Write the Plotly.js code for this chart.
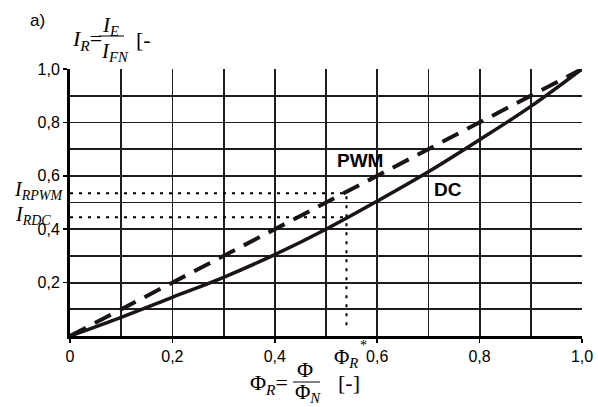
<!DOCTYPE html>
<html>
<head>
<meta charset="utf-8">
<script src="https://cdn.plot.ly/plotly-3.0.1.min.js"></script>
<style>html,body{margin:0;padding:0;background:#fff;}#chart{width:598px;height:407px;}</style>
</head>
<body>
<div id="chart"></div>
<script>
// ---- data ----
const phi = [0, 0.1, 0.2, 0.3, 0.4, 0.5, 0.6, 0.7, 0.8, 0.9, 1.0];
const dcValues = [0, 0.07, 0.145, 0.22, 0.305, 0.40, 0.505, 0.615, 0.735, 0.86, 1.0];
const pwmValues = [0, 0.1, 0.2, 0.3, 0.4, 0.5, 0.6, 0.7, 0.8, 0.9, 1.0];
const phiStar = 0.54;
const iRPWM = 0.535;
const iRDC = 0.445;
const xTickVals = [0, 0.2, 0.4, 0.6, 0.8, 1.0];
const xTickText = ["0", "0,2", "0,4", "0,6", "0,8", "1,0"];
const yTickVals = [0.2, 0.4, 0.6, 0.8, 1.0];
const yTickText = ["0,2", "0,4", "0,6", "0,8", "1,0"];
const seriesNames = ["DC", "PWM"];

// ---- layout helpers (pixel -> paper) ----
const L = 70, R = 16, T = 69, B = 71, W = 598, H = 407;
const PW = W - L - R, PH = H - T - B;
function px(x) { return (x - L) / PW; }
function py(y) { return (H - B - y) / PH; }

const serif = "Liberation Serif, Times New Roman, serif";
const sans = "Liberation Sans, Arial, sans-serif";

const traces = [
  { x: phi, y: dcValues, mode: "lines", name: seriesNames[0],
    line: { color: "#1a1414", width: 3.5, shape: "spline", smoothing: 1 }, cliponaxis: false },
  { x: phi, y: pwmValues, mode: "lines", name: seriesNames[1],
    line: { color: "#1a1414", width: 4, dash: "18px,10px" }, cliponaxis: false },
  { x: [0, phiStar], y: [iRPWM, iRPWM], mode: "lines",
    line: { color: "#000", width: 2, dash: "3px,6px" } },
  { x: [0, phiStar], y: [iRDC, iRDC], mode: "lines",
    line: { color: "#000", width: 2, dash: "3px,6px" } },
  { x: [phiStar, phiStar], y: [0.04, iRPWM + 0.01], mode: "lines",
    line: { color: "#000", width: 2, dash: "3px,6px" } }
];

function ann(text, x, y, opts) {
  return Object.assign({ text: text, xref: "paper", yref: "paper", x: px(x), y: py(y),
    showarrow: false, xanchor: "center", yanchor: "middle",
    font: { family: serif, size: 22, color: "#000" } }, opts || {});
}

const annotations = [
  ann("a)", 37, 20, { font: { family: sans, size: 17, color: "#000" } }),
  ann("<i>I</i><sub><i>R</i></sub>=", 70, 40, { xanchor: "left" }),
  ann("<i>I</i><sub><i>E</i></sub>", 100, 26, { xanchor: "left", font: { family: serif, size: 21, color: "#000" } }),
  ann("<i>I</i><sub><i>FN</i></sub>", 99, 52, { xanchor: "left", font: { family: serif, size: 21, color: "#000" } }),
  ann("[-", 134, 40, { xanchor: "left" }),
  ann("Φ<sub><i>R</i></sub>=", 248, 384, { xanchor: "left" }),
  ann("Φ", 305, 369),
  ann("Φ<sub><i>N</i></sub>", 308, 393, { font: { family: serif, size: 21, color: "#000" } }),
  ann("[-]", 336, 382, { xanchor: "left" }),
  ann("Φ<sub><i>R</i></sub>", 346, 358, { font: { family: serif, size: 21, color: "#000" } }),
  ann("*", 363, 345, { font: { family: serif, size: 14, color: "#000" } }),
  ann("<i>I</i><sub><i>RPWM</i></sub>", 65, 190, { xanchor: "right", font: { family: serif, size: 20, color: "#000" } }),
  ann("<i>I</i><sub><i>RDC</i></sub>", 53, 215, { xanchor: "right", font: { family: serif, size: 20, color: "#000" } }),
  ann("<b>PWM</b>", 360, 160, { font: { family: sans, size: 19, color: "#000" } }),
  ann("<b>DC</b>", 448, 189, { font: { family: sans, size: 19, color: "#000" } })
];

const shapes = [
  { type: "line", xref: "paper", yref: "paper", x0: px(99), x1: px(124), y0: py(36), y1: py(36),
    line: { color: "#000", width: 1 } },
  { type: "line", xref: "paper", yref: "paper", x0: px(293), x1: px(320), y0: py(382), y1: py(382),
    line: { color: "#000", width: 1 } }
];

const gridColor = "#1e1e1e";
const layout = {
  width: W, height: H,
  margin: { l: L, r: R, t: T, b: B, pad: 0 },
  paper_bgcolor: "#fff", plot_bgcolor: "#fff",
  showlegend: false,
  xaxis: {
    range: [0, 1], tickmode: "array", tickvals: xTickVals, ticktext: xTickText,
    showgrid: true, gridcolor: gridColor, gridwidth: 1.8, zeroline: false,
    showline: true, linecolor: "#000", linewidth: 3,
    ticks: "outside", ticklen: 4, tickwidth: 1.5, tickcolor: "#000",
    tickfont: { family: sans, size: 16, color: "#000" },
    minor: { tickmode: "linear", tick0: 0, dtick: 0.1, showgrid: true, gridcolor: gridColor, gridwidth: 1.8, ticks: "" },
    fixedrange: true
  },
  yaxis: {
    range: [0, 1], tickmode: "array", tickvals: yTickVals, ticktext: yTickText,
    showgrid: true, gridcolor: gridColor, gridwidth: 1.8, zeroline: false,
    showline: true, linecolor: "#000", linewidth: 3,
    ticks: "outside", ticklen: 4, tickwidth: 1.5, tickcolor: "#000",
    tickfont: { family: sans, size: 16, color: "#000" },
    minor: { tickmode: "linear", tick0: 0, dtick: 0.1, showgrid: true, gridcolor: gridColor, gridwidth: 1.8, ticks: "" },
    fixedrange: true
  },
  annotations: annotations,
  shapes: shapes
};

Plotly.newPlot("chart", traces, layout, { staticPlot: true, displayModeBar: false });
</script>
</body>
</html>
